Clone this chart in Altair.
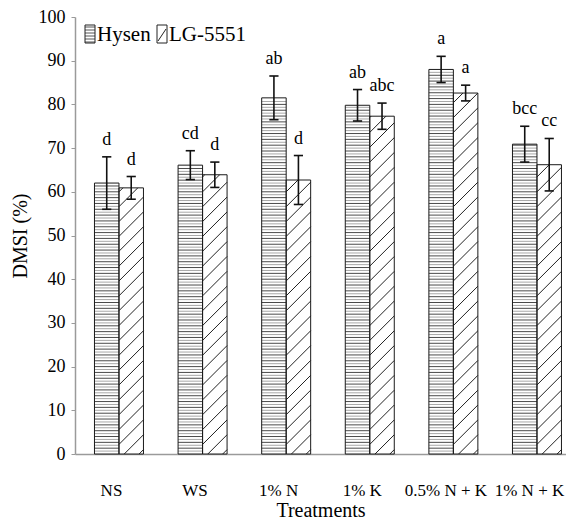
import json
import numpy as np
import pandas as pd
import altair as alt

# ---- data ----
treatments = ["NS", "WS", "1% N", "1% K", "0.5% N + K", "1% N + K"]
varieties = ["Hysen", "LG-5551"]
hysen = [62.0, 66.1, 81.5, 79.8, 88.0, 70.9]
hysen_err = [6.0, 3.3, 5.0, 3.6, 3.0, 4.1]
lg = [60.9, 63.9, 62.7, 77.3, 82.6, 66.2]
lg_err = [2.6, 2.9, 5.6, 3.0, 1.8, 6.0]
hysen_letters = ["d", "cd", "ab", "ab", "a", "bcc"]
lg_letters = ["d", "d", "d", "abc", "a", "cc"]
y_ticks = list(range(0, 101, 10))

# ---- layout / style ----
FONT = "Liberation Serif"
W, H = 491, 437
XMIN, XMAX = -0.526, -0.526 + W / 83.6
BW = 0.293            # width of one bar in category units
CAP = 0.055           # half cap width
STRIPE = 10 / 15      # horizontal stripe spacing (y units)
DIAG_GAP = 3.4        # diagonal spacing (y units)
DIAG_RISE = (BW * 83.6) / (H / 100)  # 45 degree in pixels

rows = []
for i, t in enumerate(treatments):
    rows.append(dict(t=t, var="Hysen", x0=i - BW, x1=i, xc=i - BW / 2,
                     v=hysen[i], e=hysen_err[i], lab=hysen_letters[i]))
    rows.append(dict(t=t, var="LG-5551", x0=i, x1=i + BW, xc=i + BW / 2,
                     v=lg[i], e=lg_err[i], lab=lg_letters[i]))
bars = pd.DataFrame(rows)
bars["lo"] = bars["v"] - bars["e"]
bars["hi"] = bars["v"] + bars["e"]
bars["c0"] = bars["xc"] - CAP
bars["c1"] = bars["xc"] + CAP

# horizontal stripes for Hysen
srows = []
for _, r in bars[bars["var"] == "Hysen"].iterrows():
    k = 1
    while k * STRIPE < r["v"] - 0.2:
        srows.append(dict(x0=r["x0"], x1=r["x1"], y=k * STRIPE,
                          shade="d" if k % 2 == 0 else "l"))
        k += 1
stripes = pd.DataFrame(srows)

# diagonal hatch for LG-5551
drows = []
for _, r in bars[bars["var"] == "LG-5551"].iterrows():
    v = r["v"]
    b = -DIAG_RISE + 1.0
    while b < v:
        tmin = max(0.0, (0 - b) / DIAG_RISE)
        tmax = min(1.0, (v - b) / DIAG_RISE)
        if tmax > tmin:
            drows.append(dict(x0=r["x0"] + tmin * (r["x1"] - r["x0"]), y0=b + tmin * DIAG_RISE,
                              x1=r["x0"] + tmax * (r["x1"] - r["x0"]), y1=b + tmax * DIAG_RISE))
        b += DIAG_GAP
diags = pd.DataFrame(drows)

xscale = alt.Scale(domain=[XMIN, XMAX], nice=False, zero=False)
yscale = alt.Scale(domain=[0, 100], nice=False)

label_expr = "%s[datum.value]" % json.dumps(treatments)

x_axis = alt.Axis(values=list(range(len(treatments))), labelExpr=label_expr, grid=False,
                  ticks=False, tickSize=0, domainColor="#9a9a9a", domainWidth=1.5,
                  labelFont=FONT, labelFontSize=17, labelColor="black",
                  labelBaseline="middle", labelPadding=36, labelOffset=-8,
                  title="Treatments", titleFont=FONT, titleFontSize=20,
                  titleFontWeight="normal", titleColor="black",
                  titleBaseline="middle", titleY=56)
y_axis = alt.Axis(values=y_ticks, grid=False, tickSize=4, tickColor="#9a9a9a",
                  domainColor="#9a9a9a", domainWidth=1.5, labelFont=FONT,
                  labelFontSize=18, labelColor="black", labelPadding=6,
                  title="DMSI (%)", titleFont=FONT, titleFontSize=20,
                  titleFontWeight="normal", titleColor="black", titleX=-45)


def X(f):
    return alt.X(f, type="quantitative", scale=xscale, axis=x_axis)


def Y(f):
    return alt.Y(f, type="quantitative", scale=yscale, axis=y_axis)


fills = alt.Chart(bars).mark_rect(fill="white", strokeWidth=0).encode(
    x=X("x0"), x2="x1", y=Y("v"), y2=alt.datum(0),
)

stripe_layer = alt.Chart(stripes).mark_rule(strokeWidth=1).encode(
    x=X("x0"), x2="x1", y=Y("y"),
    color=alt.Color("shade:N", scale=alt.Scale(domain=["d", "l"], range=["#4a4a4a", "#a8a8a8"]),
                    legend=None),
)

diag_layer = alt.Chart(diags).mark_rule(strokeWidth=1, color="#222222").encode(
    x=X("x0"), x2="x1", y=Y("y0"), y2="y1",
)

outlines = alt.Chart(bars).mark_rect(fillOpacity=0, stroke="#1a1a1a", strokeWidth=1).encode(
    x=X("x0"), x2="x1", y=Y("v"), y2=alt.datum(0),
)

err_v = alt.Chart(bars).mark_rule(color="#111111", strokeWidth=1.6).encode(
    x=X("xc"), y=Y("lo"), y2="hi",
)
cap_hi = alt.Chart(bars).mark_rule(color="#111111", strokeWidth=1.6).encode(
    x=X("c0"), x2="c1", y=Y("hi"),
)
cap_lo = alt.Chart(bars).mark_rule(color="#111111", strokeWidth=1.6).encode(
    x=X("c0"), x2="c1", y=Y("lo"),
)

letters = alt.Chart(bars).mark_text(font=FONT, fontSize=18, baseline="bottom", dy=-8,
                                    color="black").encode(
    x=X("xc"), y=Y("hi"), text="lab:N",
)

# ---- legend (inside top-left) ----
leg_stripes = pd.DataFrame({"py": [10 + 3 * k for k in range(6)]})
leg_s = alt.Chart(leg_stripes).mark_rule(color="#555555", strokeWidth=1).encode(
    x=alt.value(10), x2=alt.value(20), y=alt.Y("py:Q", scale=None, axis=None))
leg_box1 = alt.Chart(pd.DataFrame({"k": [0]})).mark_rect(fillOpacity=0, stroke="#222", strokeWidth=1).encode(
    x=alt.value(10), x2=alt.value(20), y=alt.value(8), y2=alt.value(26))
leg_box2 = alt.Chart(pd.DataFrame({"k": [0]})).mark_rect(fillOpacity=0, stroke="#222", strokeWidth=1).encode(
    x=alt.value(82), x2=alt.value(92), y=alt.value(8), y2=alt.value(26))
leg_d = alt.Chart(pd.DataFrame({"k": [0]})).mark_rule(color="#222", strokeWidth=1).encode(
    x=alt.value(83), x2=alt.value(91), y=alt.value(24), y2=alt.value(12))
leg_txt = alt.Chart(pd.DataFrame({"name": varieties, "px": [22, 94]})).mark_text(
    font=FONT, fontSize=21, align="left", baseline="middle", color="black").encode(
    x=alt.X("px:Q", scale=None, axis=None), y=alt.value(18), text="name:N")

chart = alt.layer(
    fills, stripe_layer, diag_layer, outlines, err_v, cap_hi, cap_lo, letters,
    leg_s, leg_box1, leg_box2, leg_d, leg_txt,
).properties(
    width=W, height=H,
    autosize=alt.AutoSizeParams(type="none"),
    padding={"left": 67, "top": 9, "right": 0, "bottom": 69},
).configure(background="white").configure_view(stroke=None)

chart.save("out.html", embed_options={"renderer": "svg", "actions": False})
